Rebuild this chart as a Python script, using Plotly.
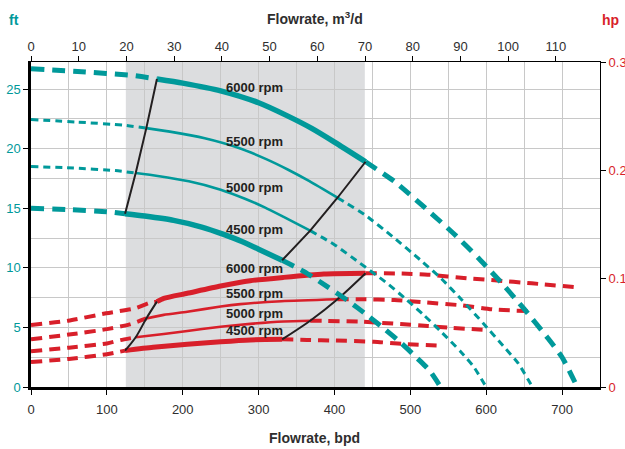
import plotly.graph_objects as go

# ---------------- data ----------------
speeds = ["4500 rpm", "5000 rpm", "5500 rpm", "6000 rpm"]
mor_bpd = [124, 138, 152, 166]
bep_bpd = [331, 368, 404, 441]

# Head curves (ft) vs flowrate (bpd)
head_q_4500 = [0, 50, 100, 124, 150, 188, 225, 254, 278, 300, 331, 360, 390, 420, 442, 465, 488, 510, 525, 540]
head_ft_4500 = [15.0, 14.88, 14.71, 14.54, 14.34, 13.98, 13.42, 12.8, 12.21, 11.56, 10.63, 9.68, 8.44, 7.14, 6.08, 4.92, 3.68, 2.36, 1.41, 0.0]
head_q_5000 = [0, 56, 111, 138, 167, 208, 250, 282, 308, 333, 368, 400, 433, 467, 492, 517, 542, 567, 583, 600]
head_ft_5000 = [18.5, 18.37, 18.16, 17.95, 17.71, 17.26, 16.56, 15.8, 15.07, 14.27, 13.12, 11.94, 10.42, 8.82, 7.5, 6.08, 4.55, 2.92, 1.74, 0.0]
head_q_5500 = [0, 61, 122, 152, 183, 229, 275, 310, 339, 367, 404, 440, 477, 513, 541, 568, 596, 623, 642, 661]
head_ft_5500 = [22.44, 22.23, 21.97, 21.72, 21.43, 20.88, 20.04, 19.12, 18.23, 17.27, 15.88, 14.45, 12.6, 10.67, 9.08, 7.3, 5.35, 3.4, 2.0, 0.0]
head_q_6000 = [0, 67, 133, 166, 200, 250, 300, 338, 370, 400, 441, 480, 520, 560, 590, 620, 650, 680, 700, 720]
head_ft_6000 = [26.7, 26.45, 26.15, 25.85, 25.5, 24.85, 23.85, 22.75, 21.7, 20.55, 18.9, 17.2, 15.0, 12.7, 10.8, 8.75, 6.55, 4.2, 2.5, 0.0]

# Power curves (hp) vs flowrate (bpd)
pow_q_4500 = [0, 50, 100, 124, 161, 206, 250, 289, 331, 364, 400, 452, 489, 542]
pow_hp_4500 = [0.0231, 0.0259, 0.0303, 0.0336, 0.0366, 0.0394, 0.0418, 0.0435, 0.0440, 0.0435, 0.0429, 0.0418, 0.0398, 0.0382]
pow_q_5000 = [0, 50, 100, 118, 138, 175, 206, 250, 289, 333, 368, 435, 487, 523, 553, 602]
pow_hp_5000 = [0.0330, 0.0363, 0.0402, 0.0433, 0.0459, 0.0490, 0.0517, 0.0556, 0.0583, 0.0605, 0.0612, 0.0603, 0.0581, 0.0563, 0.0547, 0.0526]
pow_q_5500 = [0, 50, 100, 130, 152, 175, 206, 250, 276, 330, 404, 435, 479, 520, 567, 611, 663]
pow_hp_5500 = [0.0440, 0.0484, 0.0534, 0.0578, 0.0633, 0.0666, 0.0695, 0.0743, 0.0765, 0.0792, 0.0810, 0.0810, 0.0803, 0.0781, 0.0754, 0.0715, 0.0699]
pow_q_6000 = [0, 49, 99, 137, 157, 166, 175, 206, 250, 289, 333, 386, 441, 489, 523, 575, 611, 660, 721]
pow_hp_6000 = [0.0572, 0.0612, 0.0680, 0.0726, 0.0778, 0.0788, 0.0818, 0.0865, 0.0932, 0.0981, 0.1012, 0.1043, 0.1050, 0.1047, 0.1037, 0.1003, 0.0985, 0.0957, 0.0920]

# Recommended operating range (bpd)
range_bpd = [125, 440]

# Axis ranges / ticks
bpd_max = 750
bpd_per_m3 = 6.28981
ft_max = 27.27
hp_max = 0.3

head_q = [head_q_4500, head_q_5000, head_q_5500, head_q_6000]
head_ft = [head_ft_4500, head_ft_5000, head_ft_5500, head_ft_6000]
pow_q = [pow_q_4500, pow_q_5000, pow_q_5500, pow_q_6000]
pow_hp = [pow_hp_4500, pow_hp_5000, pow_hp_5500, pow_hp_6000]

TEAL = "#00999a"
RED = "#d81f2a"
DARK = "#231f20"
TXT = "#2e2e2e"
FONT = "Liberation Sans, Arial, sans-serif"

thick = [True, False, False, True]

def split(q, v, lo, hi):
    left = [(a, b) for a, b in zip(q, v) if a <= lo]
    mid = [(a, b) for a, b in zip(q, v) if lo <= a <= hi]
    right = [(a, b) for a, b in zip(q, v) if a >= hi]
    return left, mid, right

fig = go.Figure()

# power curves (primary y = hp, right side)
for i in range(4):
    l, m, r = split(pow_q[i], pow_hp[i], mor_bpd[i], bep_bpd[i])
    wsolid = 5 if thick[i] else 2.6
    for seg, dash, w in [(l, "11px,7px", 4), (m, "solid", wsolid), (r, "11px,7px", 4)]:
        fig.add_trace(go.Scatter(x=[p[0] for p in seg], y=[p[1] for p in seg], mode="lines",
                                 line=dict(color=RED, width=w, dash=dash, shape="spline", smoothing=0.6),
                                 xaxis="x", yaxis="y", showlegend=False, hoverinfo="skip"))

# power MOR / BEP loci
pm_y = [dict(zip(pow_q[i], pow_hp[i]))[mor_bpd[i]] for i in range(4)]
pb_y = [dict(zip(pow_q[i], pow_hp[i]))[bep_bpd[i]] for i in range(4)]
for xs, ys in [(mor_bpd, pm_y), (bep_bpd, pb_y)]:
    fig.add_trace(go.Scatter(x=xs, y=ys, mode="lines", line=dict(color=DARK, width=2, shape="spline"),
                             xaxis="x", yaxis="y", showlegend=False, hoverinfo="skip"))

# head curves (y2 = ft, left side)
for i in range(4):
    l, m, r = split(head_q[i], head_ft[i], mor_bpd[i], bep_bpd[i])
    if thick[i]:
        dd, wd, ws = "13px,8px", 5, 5.5
    else:
        dd, wd, ws = "7px,5px", 3, 2.6
    for seg, dash, w in [(l, dd, wd), (m, "solid", ws), (r, dd, wd)]:
        fig.add_trace(go.Scatter(x=[p[0] for p in seg], y=[p[1] for p in seg], mode="lines",
                                 line=dict(color=TEAL, width=w, dash=dash, shape="spline", smoothing=0.6),
                                 xaxis="x", yaxis="y2", showlegend=False, hoverinfo="skip"))

hm_y = [dict(zip(head_q[i], head_ft[i]))[mor_bpd[i]] for i in range(4)]
hb_y = [dict(zip(head_q[i], head_ft[i]))[bep_bpd[i]] for i in range(4)]
for xs, ys in [(mor_bpd, hm_y), (bep_bpd, hb_y)]:
    fig.add_trace(go.Scatter(x=xs, y=ys, mode="lines", line=dict(color=DARK, width=2),
                             xaxis="x", yaxis="y2", showlegend=False, hoverinfo="skip"))

# invisible trace carrying the top (m3/d) axis
fig.add_trace(go.Scatter(x=[0, bpd_max / bpd_per_m3], y=[0, 0], mode="lines", line=dict(width=0),
                         xaxis="x2", yaxis="y", showlegend=False, hoverinfo="skip", opacity=0))

# labels
head_label_ft = [13.2, 16.7, 20.6, 25.1]
pow_label_ft = [4.78, 6.18, 7.86, 9.94]
label_bpd = 295
ann = []
for i in range(4):
    for yv in (head_label_ft[i], pow_label_ft[i]):
        ann.append(dict(x=label_bpd, y=yv, xref="x", yref="y2", text="<b>%s</b>" % speeds[i],
                        showarrow=False, xanchor="center", yanchor="middle",
                        font=dict(family=FONT, size=13, color=DARK)))

def paper_label(x, y, text, color):
    return dict(x=x, y=y, xref="paper", yref="paper", text=text, showarrow=False,
                xanchor="center", yanchor="middle", font=dict(family=FONT, size=14, color=color))

ann += [
    paper_label(0.499, 1.135, "<b>Flowrate, m<sup>3</sup>/d</b>", TXT),
    paper_label(0.499, -0.157, "<b>Flowrate, bpd</b>", TXT),
    paper_label(-0.03, 1.129, "<b>ft</b>", TEAL),
    paper_label(1.0176, 1.129, "<b>hp</b>", RED),
]

fig.update_layout(
    width=625, height=449,
    margin=dict(l=31, r=25, t=62, b=62, autoexpand=False),
    paper_bgcolor="white", plot_bgcolor="white",
    font=dict(family=FONT, size=13, color=TXT),
    annotations=ann,
    shapes=[dict(type="rect", xref="x", yref="paper", x0=range_bpd[0], x1=range_bpd[1], y0=0, y1=1,
                 fillcolor="#dcdddf", line=dict(width=0), layer="below")],
    xaxis=dict(range=[0, bpd_max], dtick=100, tick0=0, showgrid=True, gridcolor="#c8c8c8", gridwidth=1,
               minor=dict(dtick=50, showgrid=True, gridcolor="#c8c8c8", gridwidth=1),
               showline=True, linecolor="black", linewidth=2.5, ticks="outside", ticklen=5,
               tickcolor="black", tickfont=dict(family=FONT, size=13, color=TXT), zeroline=False,
               ticklabelstandoff=4, automargin=False),
    xaxis2=dict(range=[0, bpd_max / bpd_per_m3], dtick=10, tick0=0, overlaying="x", side="top",
                showgrid=False, showline=True, linecolor="black", linewidth=1, ticks="outside", ticklen=5,
                tickcolor="black", tickfont=dict(family=FONT, size=13, color=TXT), zeroline=False,
                automargin=False),
    yaxis=dict(range=[0, hp_max], dtick=0.1, tick0=0, side="right", showgrid=False,
               showline=True, linecolor="black", linewidth=1, ticks="outside", ticklen=5,
               tickcolor="black", tickfont=dict(family=FONT, size=13, color=RED), zeroline=False,
               automargin=False),
    yaxis2=dict(range=[0, ft_max], dtick=5, tick0=0, overlaying="y", side="left",
                showgrid=True, gridcolor="#c8c8c8", gridwidth=1,
                minor=dict(dtick=2.5, showgrid=True, gridcolor="#c8c8c8", gridwidth=1),
                showline=True, linecolor="black", linewidth=2.5, ticks="outside", ticklen=5,
                tickcolor="black", tickfont=dict(family=FONT, size=13, color=TEAL), zeroline=False,
                automargin=False),
)

# remove the default 8px page margin so the figure fills the 625x449 window exactly
fig.write_html("out.html", config={"displayModeBar": False},
               post_script="document.body.style.margin='0';document.body.style.overflow='hidden';")
